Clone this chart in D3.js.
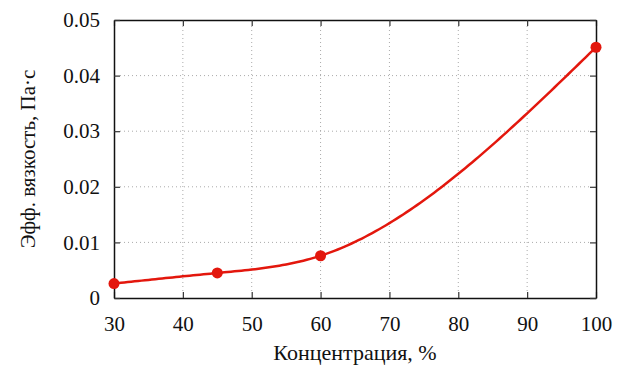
<!doctype html>
<html>
<head>
<meta charset="utf-8">
<script src="https://cdn.jsdelivr.net/npm/d3@7"></script>
<style>
  body { margin: 0; background: #fff; }
  svg text { font-family: "Liberation Serif", "Times New Roman", "DejaVu Serif", serif; fill: #111; }
</style>
</head>
<body>
<svg id="chart" width="629" height="367"></svg>
<script>
// data
var concentration = [30, 45, 60, 100];
var viscosity = [0.0026, 0.0045, 0.0076, 0.0451];
var xTicks = [30, 40, 50, 60, 70, 80, 90, 100];
var yTicks = [0, 0.01, 0.02, 0.03, 0.04, 0.05];

var svg = d3.select("#chart"),
    margin = {left: 114, right: 33, top: 20, bottom: 69},
    width = 629 - margin.left - margin.right,
    height = 367 - margin.top - margin.bottom;

var g = svg.append("g").attr("transform", "translate(" + margin.left + "," + margin.top + ")");

var x = d3.scaleLinear().domain([30, 100]).range([0, width]);
var y = d3.scaleLinear().domain([0, 0.05]).range([height, 0]);

// natural cubic spline through the points (x as parameter, like gnuplot csplines)
function naturalSpline(xs, ys) {
  var n = xs.length, h = [], a = [], b = [], c = [], r = [], M = new Array(n).fill(0);
  for (var i = 0; i < n - 1; i++) h[i] = xs[i + 1] - xs[i];
  for (var i = 1; i < n - 1; i++) {
    a[i] = h[i - 1]; b[i] = 2 * (h[i - 1] + h[i]); c[i] = h[i];
    r[i] = 6 * ((ys[i + 1] - ys[i]) / h[i] - (ys[i] - ys[i - 1]) / h[i - 1]);
  }
  // thomas algorithm
  for (var i = 2; i < n - 1; i++) {
    var m = a[i] / b[i - 1];
    b[i] -= m * c[i - 1]; r[i] -= m * r[i - 1];
  }
  for (var i = n - 2; i >= 1; i--) M[i] = (r[i] - (i < n - 2 ? c[i] * M[i + 1] : 0)) / b[i];
  return function(t) {
    var k = 0;
    while (k < n - 2 && t > xs[k + 1]) k++;
    var hk = h[k], A = (xs[k + 1] - t) / hk, B = (t - xs[k]) / hk;
    return A * ys[k] + B * ys[k + 1] + ((A * A * A - A) * M[k] + (B * B * B - B) * M[k + 1]) * hk * hk / 6;
  };
}

// dotted grid
g.append("g").selectAll("line")
  .data(xTicks.slice(1, -1))
  .enter().append("line")
    .attr("x1", function(d) { return x(d); }).attr("x2", function(d) { return x(d); })
    .attr("y1", 6).attr("y2", height - 6)
    .attr("stroke", "#aaa").attr("stroke-width", 1).attr("stroke-dasharray", "1,3");
g.append("g").selectAll("line")
  .data(yTicks.slice(1, -1))
  .enter().append("line")
    .attr("y1", function(d) { return y(d); }).attr("y2", function(d) { return y(d); })
    .attr("x1", 6).attr("x2", width - 6)
    .attr("stroke", "#aaa").attr("stroke-width", 1).attr("stroke-dasharray", "1,3");

// axes, ticks pointing inwards on all four sides
var fmtY = function(d) { return d === 0 ? "0" : d3.format(".2f")(d); };

var xb = g.append("g").attr("transform", "translate(0," + height + ")")
  .call(d3.axisBottom(x).tickValues(xTicks).tickSizeInner(-6).tickSizeOuter(0).tickPadding(18));
var xt = g.append("g")
  .call(d3.axisTop(x).tickValues(xTicks).tickSizeInner(-6).tickSizeOuter(0).tickFormat(""));
var yl = g.append("g")
  .call(d3.axisLeft(y).tickValues(yTicks).tickSizeInner(-6).tickSizeOuter(0).tickPadding(14).tickFormat(fmtY));
var yr = g.append("g").attr("transform", "translate(" + width + ",0)")
  .call(d3.axisRight(y).tickValues(yTicks).tickSizeInner(-6).tickSizeOuter(0).tickFormat(""));

[xb, xt, yl, yr].forEach(function(a) {
  a.attr("font-family", null);
  a.select(".domain").attr("stroke", "#111").attr("stroke-width", 1.5);
  a.selectAll(".tick line").attr("stroke", "#333").attr("stroke-width", 1.2);
  a.selectAll(".tick text").attr("font-size", 21).attr("fill", "#111");
});

// curve
var spline = naturalSpline(concentration, viscosity);
var samples = d3.range(30, 100.01, 0.5).map(function(c) { return [c, spline(c)]; });
var line = d3.line()
  .x(function(d) { return x(d[0]); })
  .y(function(d) { return y(d[1]); });

g.append("path")
  .datum(samples)
  .attr("fill", "none")
  .attr("stroke", "#e3170d")
  .attr("stroke-width", 2.5)
  .attr("d", line);

var pts = concentration.map(function(c, i) { return [c, viscosity[i]]; });
g.selectAll("circle.pt")
  .data(pts)
  .enter().append("circle")
    .attr("class", "pt")
    .attr("cx", function(d) { return x(d[0]); })
    .attr("cy", function(d) { return y(d[1]); })
    .attr("r", 5.5)
    .attr("fill", "#e3170d");

// axis titles
svg.append("text")
  .attr("x", margin.left + width / 2)
  .attr("y", 360)
  .attr("text-anchor", "middle")
  .attr("font-size", 22)
  .text("Концентрация, %");

svg.append("text")
  .attr("transform", "translate(35," + (margin.top + height / 2) + ") rotate(-90)")
  .attr("text-anchor", "middle")
  .attr("font-size", 21)
  .text("Эфф. вязкость, Па·с");
</script>
</body>
</html>
